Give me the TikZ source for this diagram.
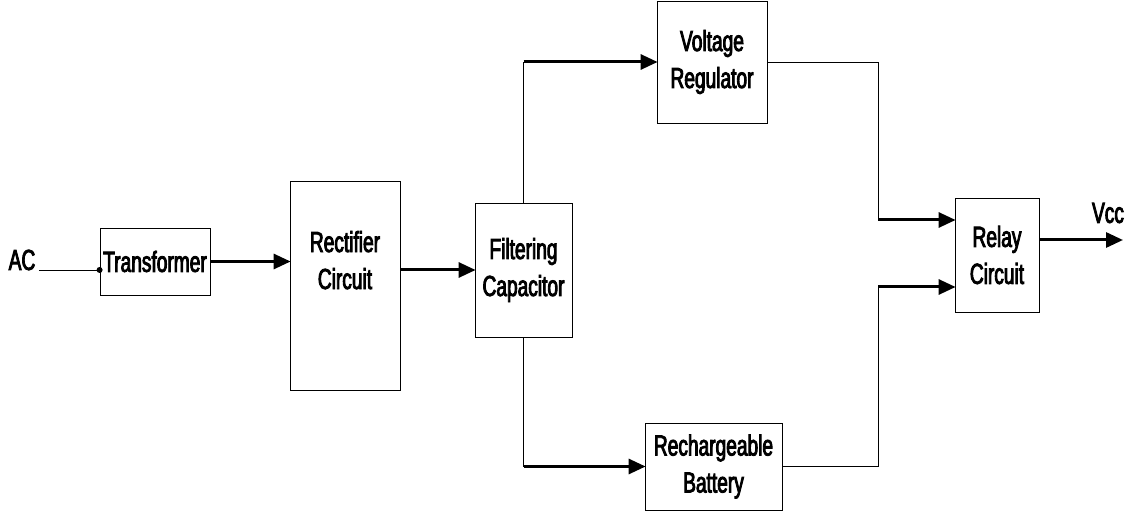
\documentclass[tikz,border=0pt]{standalone}
\usepackage{fontspec}
\setmainfont{Liberation Sans}[FakeStretch=0.66, FakeBold=3]
\usetikzlibrary{arrows.meta}
\begin{document}
\begin{tikzpicture}[x=1pt, y=-1pt,
    block/.style={draw, line width=0.8pt, align=center, inner sep=0pt,
      font=\fontsize{29}{37}\selectfont},
    wire/.style={line width=0.8pt},
    feed/.style={line width=3pt, -{Triangle[length=17pt,width=15pt]}, shorten >=-1pt}]
    \useasboundingbox (0,0) rectangle (1133,513);

    % blocks
    \node[block, minimum width=110pt, minimum height=67pt] (trans) at (155,261.5) {Transformer};
    \node[block, minimum width=110pt, minimum height=209pt] (rect) at (345,285.5) {Rectifier\\Circuit\\[14pt]};
    \node[block, minimum width=97pt, minimum height=134pt] (filt) at (523.5,270) {Filtering\\Capacitor};
    \node[block, minimum width=110pt, minimum height=122pt] (volt) at (712,62) {Voltage\\Regulator};
    \node[block, minimum width=137pt, minimum height=87pt] (batt) at (713.5,466.5) {Rechargeable\\Battery};
    \node[block, minimum width=84pt, minimum height=114pt] (relay) at (997,255) {Relay\\Circuit};

    % labels
    \node[font=\fontsize{29}{34}\selectfont] (ac) at (22,260) {AC};
    \node[font=\fontsize{29}{34}\selectfont] (vcc) at (1108,213) {Vcc};

    % junctions
    \coordinate (up) at (filt.north |- volt.west);
    \coordinate (dn) at (filt.south |- batt.west);
    \coordinate (jtop) at (878,220);
    \coordinate (jbot) at (878,287);
    \coordinate (out) at (1122,240);

    % input
    \draw[wire] (ac.base east) -- (ac.base east -| trans.west);
    \fill (ac.base east -| trans.west) circle (3pt);

    % main chain
    \draw[feed] (trans.east) -- (trans.east -| rect.west);
    \draw[feed] (filt.west -| rect.east) -- (filt.west);

    % split to regulator and battery
    \draw[wire] (filt.north) -- (up);
    \draw[feed] (up) -- (volt.west);
    \draw[wire] (filt.south) -- (dn);
    \draw[feed] (dn) -- (batt.west);

    % merge into relay
    \draw[wire] (volt.east) -| (jtop);
    \draw[feed] (jtop) -- (jtop -| relay.west);
    \draw[wire] (batt.east) -| (jbot);
    \draw[feed] (jbot) -- (jbot -| relay.west);

    % output
    \draw[feed] (relay.east |- out) -- (out);
\end{tikzpicture}
\end{document}
